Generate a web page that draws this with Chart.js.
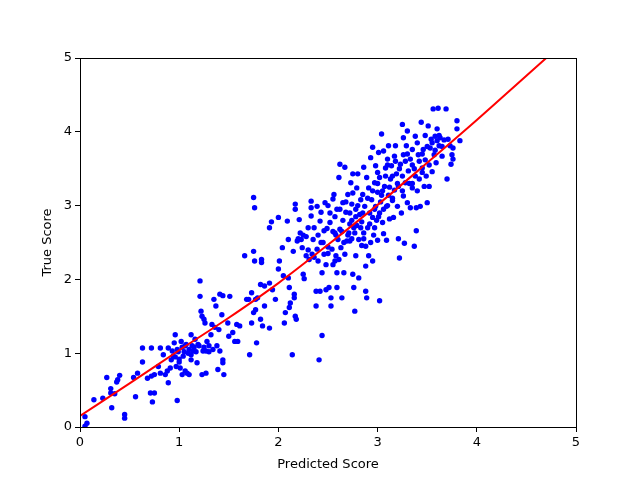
<!DOCTYPE html>
<html>
<head>
<meta charset="utf-8">
<script src="https://cdn.jsdelivr.net/npm/chart.js@4"></script>
<style>
  html, body { margin: 0; padding: 0; background: #fff; }
  #wrap { width: 640px; height: 480px; }
</style>
</head>
<body>
<div id="wrap"><canvas id="chart" width="640" height="480"></canvas></div>
<script>
// [predicted, true] pairs
const samples = [
  [0.05,0.14],[0.07,0.05],[0.05,0.01],[0.14,0.37],[0.23,0.39],[0.27,0.67],[0.31,0.52],[0.31,0.46],
  [0.32,0.26],[0.35,0.45],[0.37,0.61],[0.38,0.64],[0.40,0.70],[0.45,0.17],[0.45,0.12],[0.56,0.41],
  [0.54,0.67],[0.58,0.73],[0.63,1.07],[0.63,0.88],[0.68,0.66],[0.71,0.46],[0.73,0.34],[0.75,0.46],
  [0.72,1.07],[0.72,0.69],[0.75,0.71],[0.79,0.82],[0.81,0.73],[0.81,1.07],[0.84,0.98],[0.86,0.71],
  [0.88,0.76],[0.89,1.07],[0.89,0.60],[0.91,0.80],[0.92,0.91],[0.94,0.96],[0.95,1.14],[0.96,1.25],
  [0.98,0.36],[0.97,0.82],[0.99,1.02],[1.00,0.88],[1.01,0.80],[1.02,1.16],[1.03,0.71],[1.04,0.96],
  [1.06,1.10],[1.06,0.76],[1.08,0.73],[1.09,1.00],[1.10,0.71],[1.12,0.91],[1.12,1.25],[1.13,1.10],
  [1.14,1.03],[1.16,1.19],[1.18,0.87],[1.19,1.12],[1.21,1.98],[1.21,1.77],[1.22,1.57],[1.23,0.71],
  [1.23,1.50],[1.24,1.03],[1.25,1.46],[1.26,1.41],[1.27,0.73],[1.27,1.03],[1.28,1.16],[1.30,1.10],
  [1.32,1.25],[1.33,1.39],[1.34,1.05],[1.35,1.73],[1.36,1.35],[1.37,1.64],[1.38,1.10],[1.39,0.78],
  [1.40,1.32],[1.41,1.03],[1.41,1.80],[1.43,1.52],[1.44,1.78],[1.44,0.91],[1.44,0.87],[1.45,0.71],
  [1.49,1.41],[1.50,1.23],[1.51,1.77],[1.54,1.28],[1.56,1.16],[1.58,1.39],[1.59,1.16],[1.61,1.37],
  [0.98,1.05],[1.03,1.08],[1.05,1.02],[1.07,1.12],[1.10,1.05],[1.15,1.08],[1.17,1.02],[1.20,1.10],
  [1.25,1.08],[1.30,1.02],[0.93,1.03],[0.96,0.95],[1.00,0.92],[1.12,0.98],
  [1.66,2.32],[1.68,1.73],[1.70,1.73],[1.71,0.98],[1.73,1.41],[1.73,1.82],[1.75,3.11],[1.76,2.97],
  [1.75,2.38],[1.76,2.25],[1.75,1.55],[1.77,1.73],[1.77,1.59],[1.78,1.14],[1.79,1.75],[1.82,1.93],
  [1.82,1.46],[1.83,2.23],[1.83,2.27],[1.84,1.37],[1.86,1.91],[1.86,1.64],[1.91,1.34],[1.91,1.95],
  [1.91,2.70],[1.93,2.78],[1.94,1.86],[1.97,1.73],[2.00,2.14],[2.00,2.84],[2.01,2.25],[2.04,2.43],
  [2.05,2.05],[2.06,1.41],[2.07,1.55],[2.09,2.79],[2.10,2.54],[2.10,2.02],[2.11,1.89],[2.11,1.62],
  [2.12,1.68],[2.14,0.98],[2.15,2.38],[2.16,1.80],[2.16,1.75],[2.17,3.02],[2.17,2.95],[2.17,1.50],
  [2.18,1.46],[2.19,2.52],[2.21,2.81],[2.22,2.63],[2.23,2.54],[2.24,2.43],[2.25,2.07],[2.26,2.01],
  [2.28,2.32],[2.28,2.58],[2.30,2.70],[2.31,2.27],[2.33,3.06],[2.33,2.97],[2.33,2.86],[2.34,2.34],
  [2.35,2.54],[2.36,2.70],[2.38,1.64],[2.38,1.84],[2.39,2.99],[2.39,2.41],[2.40,2.25],[2.41,0.91],
  [2.42,1.84],[2.42,2.79],[2.43,2.91],[2.43,2.50],[2.44,1.24],[2.44,2.09],[2.46,2.34],[2.46,2.66],
  [2.47,3.04],[2.48,1.86],[2.48,2.20],[2.49,2.69],[2.50,2.44],[2.50,3.00],[2.51,1.89],[2.52,2.77],
  [2.53,1.75],[2.53,1.64],[2.54,2.41],[2.55,3.09],[2.56,3.15],[2.57,2.25],[2.57,2.63],[2.58,2.32],
  [2.59,2.09],[2.59,1.89],[2.59,2.95],[2.60,2.54],[2.61,2.27],[2.61,3.38],[2.62,3.56],[2.62,2.68],
  [2.63,2.43],[2.64,1.75],[2.65,2.80],[2.65,3.04],[2.66,2.09],[2.67,2.34],[2.67,3.52],[2.68,2.91],
  [2.69,2.52],[2.70,3.15],[2.71,2.63],[2.72,2.75],[2.72,2.52],[2.73,3.31],[2.74,2.80],[2.74,3.02],
  [2.75,3.17],[2.75,3.43],[2.75,2.07],[2.76,1.89],[2.77,1.57],[2.77,2.63],[2.78,2.32],[2.78,2.95],
  [2.79,3.24],[2.79,2.73],[2.80,3.43],[2.81,2.02],[2.81,2.54],[2.82,2.88],[2.83,3.08],[2.84,2.78],
  [2.84,2.46],[2.85,3.15],[2.86,3.52],[2.86,2.63],[2.87,2.99],[2.88,1.84],[2.88,2.18],[2.89,1.75],
  [2.89,3.38],[2.90,2.70],[2.91,3.24],[2.91,2.32],[2.92,2.90],[2.93,3.65],[2.93,2.50],[2.94,3.08],
  [2.95,3.79],[2.95,2.84],[2.95,2.25],[2.96,2.60],[2.97,3.31],[2.98,2.99],[2.98,3.54],[2.99,2.80],
  [3.00,3.18],[3.00,2.53],[3.01,3.72],[3.02,1.71],[3.02,2.90],[3.02,3.38],[3.04,3.97],[3.04,3.14],
  [3.05,2.77],[3.06,2.62],[3.06,3.74],[3.07,3.26],[3.08,3.51],[3.09,2.99],[3.09,2.53],[3.10,3.63],
  [3.11,3.14],[3.11,3.81],[3.12,2.82],[3.13,3.36],[3.14,3.54],[3.15,3.07],[3.16,2.84],[3.17,3.67],
  [3.17,3.21],[3.18,3.81],[3.19,3.43],[3.20,2.99],[3.21,2.55],[3.21,3.26],[3.22,2.29],[3.23,3.56],
  [3.24,2.90],[3.25,4.10],[3.26,3.92],[3.26,3.69],[3.26,3.13],[3.27,2.49],[3.28,3.31],[3.29,3.81],
  [3.30,3.04],[3.30,4.01],[3.31,3.47],[3.33,3.63],[3.33,2.97],[3.35,3.24],[3.35,3.76],[3.37,3.50],
  [3.37,2.45],[3.38,3.94],[3.39,2.66],[3.39,2.97],[3.40,3.20],[3.41,3.69],[3.42,3.36],[3.43,2.99],
  [3.44,4.13],[3.45,3.51],[3.46,3.76],[3.47,3.26],[3.48,3.62],[3.49,3.40],[3.50,3.04],[3.51,4.08],
  [3.52,3.26],[3.53,3.78],[3.54,3.90],[3.55,3.46],[3.56,4.31],[3.57,3.69],[3.58,3.94],[3.59,3.58],
  [3.60,4.04],[3.61,4.32],[3.62,3.81],[3.63,3.92],[3.65,3.67],[3.67,3.89],[3.69,4.31],[3.70,3.36],
  [3.71,3.90],[3.73,3.81],[3.74,3.56],[3.75,3.69],[3.76,3.78],[3.76,3.63],[3.80,4.15],[3.80,4.04],
  [3.83,3.88],
  [2.62,2.95],[2.68,3.05],[2.72,2.90],[2.76,2.70],[2.78,2.85],[2.80,3.00],[2.83,2.70],[2.85,2.90],
  [2.90,3.10],[2.92,2.75],[2.95,3.20],[2.97,2.95],[3.00,3.30],[3.03,3.05],[3.05,3.20],[3.08,3.40],
  [3.10,3.00],[3.12,3.25],[3.15,3.40],[3.18,3.60],[3.20,3.30],[3.22,3.50],[3.25,3.40],[3.28,3.60],
  [3.30,3.70],[3.32,3.30],[3.35,3.55],[3.38,3.40],[3.42,3.60],[3.45,3.70],[3.50,3.80],[3.55,3.85],
  [3.58,3.75],[3.60,3.88],[3.62,3.95],[3.65,3.80],[2.70,2.60],[2.74,2.55],[2.58,2.60],[2.55,2.65],
  [2.66,2.50],[2.86,2.55],[2.88,2.45],[2.97,2.70],[3.01,2.85],[3.06,2.95],[2.50,2.35],[2.55,2.20],
  [2.45,2.50],[2.40,2.60],[2.36,2.30],[2.30,2.40],[2.25,2.60],[2.20,2.55],[2.52,2.90],[2.57,2.85],
  [2.64,2.65],[3.15,3.10],[3.25,3.20],[3.35,3.30],[3.45,3.45],[3.52,3.55],[3.40,3.85],[3.48,3.95],
  [3.10,3.55],[3.00,3.45]
];

// fitted curve
const fitX = [0, 0.5, 1, 1.5, 2, 2.5, 3, 3.5, 4, 4.5, 4.7];
const fitY = [0.15, 0.59, 1.04, 1.48, 1.95, 2.47, 3.01, 3.58, 4.16, 4.76, 5.0];

const axisTicks = [0, 1, 2, 3, 4, 5];

const FONT = "'DejaVu Sans', sans-serif";

// draws the full black frame around the plot area
const frame = {
  id: 'frame',
  afterDraw(chart) {
    const a = chart.chartArea, ctx = chart.ctx;
    ctx.save();
    ctx.strokeStyle = '#000';
    ctx.lineWidth = 1;
    ctx.strokeRect(Math.round(a.left) + 0.5, Math.round(a.top) + 0.5,
                   Math.round(a.right - a.left), Math.round(a.bottom - a.top));
    ctx.restore();
  }
};

const ctx = document.getElementById('chart').getContext('2d');
new Chart(ctx, {
  type: 'scatter',
  data: {
    datasets: [
      {
        label: 'fit',
        data: fitX.map((x, i) => ({ x, y: fitY[i] })),
        showLine: true,
        borderColor: '#ff0000',
        borderWidth: 2,
        pointRadius: 0,
        cubicInterpolationMode: 'monotone',
        order: 0
      },
      {
        label: 'scores',
        data: samples.map(p => ({ x: p[0], y: p[1] })),
        backgroundColor: '#0000ff',
        borderColor: '#0000ff',
        borderWidth: 0,
        pointRadius: 2.7,
        order: 1
      }
    ]
  },
  options: {
    responsive: false,
    animation: false,
    layout: { padding: { left: 40, top: 58, right: 64, bottom: 8 } },
    plugins: { legend: { display: false }, tooltip: { enabled: false } },
    scales: {
      x: {
        type: 'linear', min: 0, max: 5,
        afterFit: s => { s.height = 45; },
        afterBuildTicks: s => { s.ticks = axisTicks.map(v => ({ value: v })); },
        grid: { display: true, drawOnChartArea: false, drawTicks: true, tickLength: 5, color: '#000' },
        border: { display: true, color: '#000' },
        ticks: { color: '#000', padding: 3, font: { family: FONT, size: 13 } },
        title: { display: true, text: 'Predicted Score', color: '#000', padding: { top: 2, bottom: 0 },
                 font: { family: FONT, size: 13 } }
      },
      y: {
        type: 'linear', min: 0, max: 5,
        afterFit: s => { s.width = 40; },
        afterBuildTicks: s => { s.ticks = axisTicks.map(v => ({ value: v })); },
        grid: { display: true, drawOnChartArea: false, drawTicks: true, tickLength: 5, color: '#000' },
        border: { display: true, color: '#000' },
        ticks: { color: '#000', padding: 3, font: { family: FONT, size: 13 } },
        title: { display: true, text: 'True Score', color: '#000', padding: { top: 0, bottom: 0 },
                 font: { family: FONT, size: 13 } }
      }
    }
  },
  plugins: [frame]
});
</script>
</body>
</html>
